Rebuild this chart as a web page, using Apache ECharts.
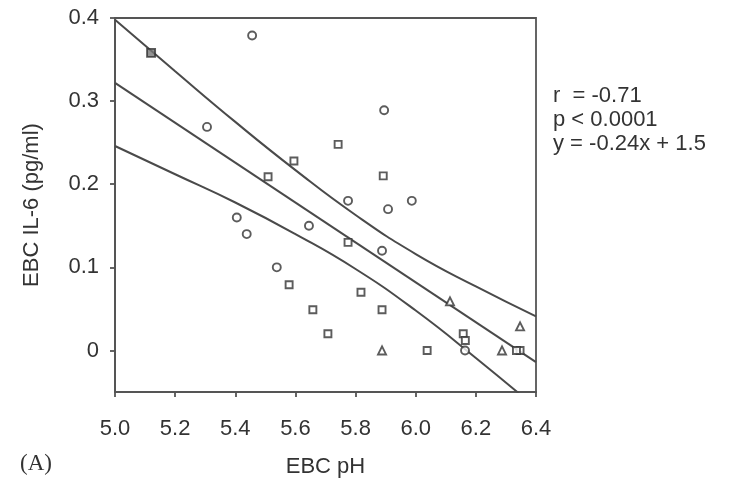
<!DOCTYPE html>
<html>
<head>
<meta charset="utf-8">
<script src="https://cdn.jsdelivr.net/npm/echarts@6/dist/echarts.min.js"></script>
<style>html,body{margin:0;padding:0;background:#fff;}#c{width:742px;height:487px;}</style>
</head>
<body>
<div id="c"></div>
<script>
// x-axis tick values and y-axis tick values
const xTicks = [5.0, 5.2, 5.4, 5.6, 5.8, 6.0, 6.2, 6.4];
const yTicks = [0, 0.1, 0.2, 0.3, 0.4];

// scatter groups: [EBC pH, EBC IL-6]
const circles = [
  [5.456, 0.379], [5.306, 0.269], [5.895, 0.289], [5.775, 0.180],
  [5.908, 0.170], [5.987, 0.180], [5.405, 0.160], [5.438, 0.140],
  [5.645, 0.150], [5.888, 0.120], [5.538, 0.100], [6.164, 0.0]
];
const squares = [
  [5.595, 0.228], [5.742, 0.248], [5.509, 0.209], [5.892, 0.210],
  [5.775, 0.130], [5.579, 0.079], [5.818, 0.070], [5.658, 0.049],
  [5.888, 0.049], [5.708, 0.020], [6.038, 0.0], [6.158, 0.020],
  [6.165, 0.012], [6.347, 0.0], [6.335, 0.0]
];
const filledSquares = [[5.12, 0.358]];
const triangles = [[5.888, 0.0], [6.114, 0.059], [6.347, 0.029], [6.287, 0.0]];

// regression line and 95% confidence band
const fitLine = [[5.0, 0.322], [6.4, -0.014]];
const upperBand = [[5.0, 0.398], [5.2, 0.336], [5.4, 0.275], [5.6, 0.217], [5.8, 0.163], [6.0, 0.116], [6.2, 0.077], [6.4, 0.041]];
const lowerBand = [[5.0, 0.246], [5.2, 0.212], [5.4, 0.178], [5.6, 0.140], [5.8, 0.098], [6.0, 0.048], [6.2, -0.009], [6.4, -0.069]];

const statLines = ['r  = -0.71', 'p < 0.0001', 'y = -0.24x + 1.5'];

const ink = '#333333';
const lineCol = '#4a4a4a';
const font = 'Liberation Sans, Arial, sans-serif';

const chart = echarts.init(document.getElementById('c'), null, {renderer: 'canvas'});

function markerSeries(data, symbol, size, fill) {
  return {
    type: 'scatter', data: data, symbol: symbol, symbolSize: size, z: 5,
    itemStyle: {color: fill || '#ffffff', borderColor: ink, borderWidth: 1.9}
  };
}
function lineSeries(data, smooth) {
  return {
    type: 'line', data: data, smooth: smooth, showSymbol: false, symbol: 'none',
    clip: true, z: 3, silent: true,
    lineStyle: {color: lineCol, width: 2}
  };
}

chart.setOption({
  animation: false,
  backgroundColor: '#ffffff',
  grid: {left: 115, right: 206, top: 18, bottom: 95, show: true, borderColor: '#555', borderWidth: 1.8, outerBoundsMode: 'none'},
  xAxis: {
    type: 'value', min: 5.0, max: 6.4, interval: 0.2,
    name: 'EBC pH', nameLocation: 'middle', nameGap: 64,
    nameTextStyle: {fontFamily: font, fontSize: 22, color: '#333'},
    axisLine: {show: true, onZero: false, lineStyle: {color: '#555', width: 2}},
    axisTick: {show: true, length: 5, lineStyle: {color: '#555', width: 1.8}},
    axisLabel: {margin: 26, fontFamily: font, fontSize: 22, color: '#333',
      formatter: v => v.toFixed(1)},
    splitLine: {show: false}
  },
  yAxis: {
    type: 'value', min: -0.05, max: 0.4,
    name: 'EBC IL-6 (pg/ml)', nameLocation: 'middle', nameGap: 72,
    nameTextStyle: {fontFamily: font, fontSize: 22, color: '#333'},
    axisLine: {show: true, onZero: false, lineStyle: {color: '#555', width: 2}},
    axisTick: {show: true, length: 5, customValues: yTicks, lineStyle: {color: '#555', width: 1.8}},
    axisLabel: {margin: 16, fontFamily: font, fontSize: 22, color: '#333', customValues: yTicks,
      formatter: v => (Math.abs(v) < 1e-9 ? '0' : String(+v.toFixed(1)))},
    splitLine: {show: false}
  },
  graphic: [
    {type: 'text', left: 553, top: 84, style: {text: statLines.join('\n'), font: '22px ' + font, fill: '#333', lineHeight: 24}},
    {type: 'text', left: 20, top: 452, style: {text: '(A)', font: '23px "Liberation Serif", "DejaVu Serif", serif', fill: '#333'}}
  ],
  series: [
    lineSeries(fitLine, false),
    lineSeries(upperBand, true),
    lineSeries(lowerBand, true),
    markerSeries(circles, 'circle', 8),
    markerSeries(squares, 'rect', 7),
    markerSeries(filledSquares, 'rect', 8, '#777'),
    markerSeries(triangles, 'triangle', 8)
  ]
});
</script>
</body>
</html>
